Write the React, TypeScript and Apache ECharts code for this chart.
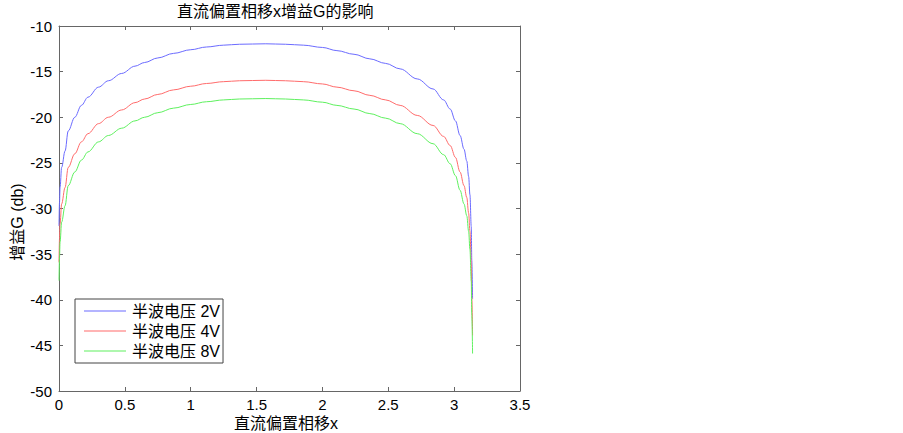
import React, { useEffect, useRef } from "react";
import * as echarts from "echarts";

const xValues = [0, 0.004, 0.008, 0.02, 0.046, 0.07, 0.12, 0.17, 0.22, 0.3, 0.375, 0.476, 0.577, 0.65, 0.75, 0.87, 1.0, 1.12, 1.25, 1.37, 1.57, 1.72, 1.855, 2.0, 2.11, 2.24, 2.36, 2.48, 2.59, 2.72, 2.84, 2.92, 2.97, 3.01, 3.045, 3.075, 3.096, 3.11, 3.12, 3.13, 3.134, 3.14];
const blueValues = [-31.9, -29.3, -27.7, -25.5, -23.7, -21.5, -20.0, -18.7, -17.8, -16.7, -16.0, -15.2, -14.4, -14.0, -13.5, -13.0, -12.6, -12.3, -12.1, -12.0, -11.95, -12.0, -12.1, -12.35, -12.7, -13.1, -13.6, -14.1, -14.7, -15.8, -16.9, -18.1, -19.1, -20.4, -22.0, -23.5, -24.8, -26.5, -28.5, -32.0, -35.7, -39.9];
const redValues = [-35.9, -33.3, -31.7, -29.5, -27.7, -25.5, -24.0, -22.7, -21.8, -20.7, -20.0, -19.2, -18.4, -18.0, -17.5, -17.0, -16.6, -16.3, -16.1, -16.0, -15.95, -16.0, -16.1, -16.35, -16.7, -17.1, -17.6, -18.1, -18.7, -19.8, -20.9, -22.1, -23.1, -24.4, -26.0, -27.5, -28.8, -30.5, -32.5, -36.0, -39.7, -43.9];
const greenValues = [-37.9, -35.3, -33.7, -31.5, -29.7, -27.5, -26.0, -24.7, -23.8, -22.7, -22.0, -21.2, -20.4, -20.0, -19.5, -19.0, -18.6, -18.3, -18.1, -18.0, -17.95, -18.0, -18.1, -18.35, -18.7, -19.1, -19.6, -20.1, -20.7, -21.8, -22.9, -24.1, -25.1, -26.4, -28.0, -29.5, -30.8, -32.5, -34.5, -38.0, -41.7, -45.9];
const seriesNames = ["半波电压 2V", "半波电压 4V", "半波电压 8V"];
const seriesColors = ["#6b6bff", "#ff6b6b", "#5ef05e"];
const titleText = "直流偏置相移x增益G的影响";
const xLabel = "直流偏置相移x";
const yLabel = "增益G (db)";

const FONT = '"Liberation Sans", Arial, "Noto Sans CJK SC", sans-serif';

export default function App() {
  const ref = useRef<HTMLDivElement>(null);
  useEffect(() => {
    if (!ref.current) return;
    const chart = echarts.init(ref.current, null, { renderer: "svg" });
    const all = [blueValues, redValues, greenValues];
    const axisLineStyle = { color: "#666", width: 1 };
    chart.setOption({
      animation: false,
      backgroundColor: "#fff",
      textStyle: { fontFamily: FONT },
      grid: { left: 59, right: 383, top: 26, bottom: 42, show: false },
      legend: {
        orient: "vertical",
        left: 75,
        top: 299,
        icon: "rect",
        itemWidth: 42,
        itemHeight: 1.2,
        itemGap: 4,
        padding: [4, 3, 4, 9],
        borderColor: "#444",
        borderWidth: 1,
        borderRadius: 0,
        backgroundColor: "#fff",
        textStyle: { fontSize: 16, color: "#000", fontFamily: FONT, padding: [0, 0, 0, 1] },
        data: seriesNames,
      },
      xAxis: [
        {
          type: "value",
          min: 0,
          max: 3.5,
          interval: 0.5,
          position: "bottom",
          axisLine: { show: true, lineStyle: axisLineStyle },
          axisTick: { show: true, inside: true, length: 4, lineStyle: axisLineStyle },
          axisLabel: { fontSize: 15, color: "#000", margin: 6, fontFamily: FONT },
          splitLine: { show: false },
        },
        {
          type: "value",
          min: 0,
          max: 3.5,
          interval: 0.5,
          position: "top",
          axisLine: { show: true, onZero: false, lineStyle: axisLineStyle },
          axisTick: { show: true, inside: true, length: 4, lineStyle: axisLineStyle },
          axisLabel: { show: false },
          splitLine: { show: false },
        },
      ],
      yAxis: [
        {
          type: "value",
          min: -50,
          max: -10,
          interval: 5,
          position: "left",
          axisLine: { show: true, onZero: false, lineStyle: axisLineStyle },
          axisTick: { show: true, inside: true, length: 4, lineStyle: axisLineStyle },
          axisLabel: { fontSize: 15, color: "#000", margin: 7, fontFamily: FONT },
          splitLine: { show: false },
        },
        {
          type: "value",
          min: -50,
          max: -10,
          interval: 5,
          position: "right",
          axisLine: { show: true, onZero: false, lineStyle: axisLineStyle },
          axisTick: { show: true, inside: true, length: 4, lineStyle: axisLineStyle },
          axisLabel: { show: false },
          splitLine: { show: false },
        },
      ],
      series: seriesNames.map((name, i) => ({
        name,
        type: "line",
        xAxisIndex: 0,
        yAxisIndex: 0,
        data: xValues.map((x, j) => [x, all[i][j]]),
        symbol: "none",
        showSymbol: false,
        smooth: 0.35,
        smoothMonotone: "x",
        color: seriesColors[i],
        itemStyle: { color: seriesColors[i] },
        lineStyle: { color: seriesColors[i], width: 1 },
      })),
      graphic: [
        {
          type: "text",
          left: 177,
          top: 3,
          style: { text: titleText, fill: "#000", font: `16px ${FONT}` },
        },
        {
          type: "text",
          x: 286,
          y: 423,
          style: { text: xLabel, fill: "#000", font: `16px ${FONT}`, align: "center", verticalAlign: "middle" },
        },
        {
          type: "text",
          x: 17,
          y: 222,
          rotation: Math.PI / 2,
          style: { text: yLabel, fill: "#000", font: `16px ${FONT}`, align: "center", verticalAlign: "middle" },
        },
      ],
    });
    return () => chart.dispose();
  }, []);
  return <div ref={ref} style={{ width: 903, height: 433, position: "absolute", left: 0, top: 0 }} />;
}
